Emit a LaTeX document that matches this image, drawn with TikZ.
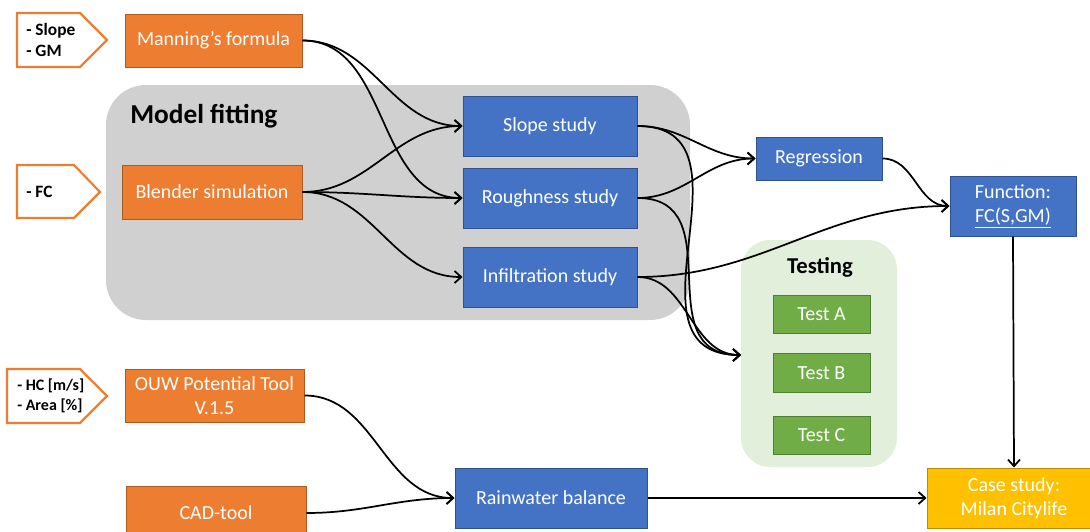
\documentclass[tikz,border=0pt]{standalone}
\usepackage{fontspec}
\setmainfont{Carlito}
\usetikzlibrary{arrows.meta}
\definecolor{orng}{HTML}{ED7D31}
\definecolor{orngb}{HTML}{AE5A21}
\definecolor{blu}{HTML}{4472C4}
\definecolor{blub}{HTML}{2F528F}
\definecolor{grn}{HTML}{70AD47}
\definecolor{grnb}{HTML}{507E32}
\definecolor{yel}{HTML}{FFC000}
\definecolor{yelb}{HTML}{BC8C00}
\definecolor{gry}{HTML}{D0D0D0}
\definecolor{lgrn}{HTML}{E2EFDA}
\begin{document}
\begin{tikzpicture}[x=0.75pt,y=-0.75pt,
 box/.style={draw, line width=0.75pt, inner sep=0pt, align=center, text=white, font=\fontsize{15}{18}\selectfont},
 obox/.style={box, fill=orng, draw=orngb},
 bbox/.style={box, fill=blu, draw=blub},
 gbox/.style={box, fill=grn, draw=grnb},
 ybox/.style={box, fill=yel, draw=yelb},
 conn/.style={line width=1.3pt, -{Straight Barb[length=5pt,width=9pt]}},
 tag/.style={draw=orng, line width=1.6pt, fill=white},
 tagtext/.style={align=left, font=\bfseries\fontsize{13}{15.5}\selectfont, inner sep=0pt, anchor=west}
]
\useasboundingbox (0,0) rectangle (1090,532);
\clip (0,0) rectangle (1090,532);
% group backgrounds
\fill[gry, rounded corners=30pt] (106,85) rectangle (690,320);
\fill[lgrn, rounded corners=22pt] (741,240) rectangle (897,467);
\node[font=\bfseries\fontsize{20.5}{24}\selectfont, anchor=west, inner sep=0pt] (mf) at (130,116) {Model fitting};
\node[font=\bfseries\fontsize{17}{20}\selectfont] (tst) at (820,267) {Testing};
% input tags
\draw[tag] (17,13) -- (80,13) -- (107,40) -- (80,67) -- (17,67) -- cycle;
\node[tagtext] (t1) at (26,40) {- Slope\\- GM};
\draw[tag] (17,165) -- (74,165) -- (100,192) -- (74,218) -- (17,218) -- cycle;
\node[tagtext] (t2) at (26,192) {- FC};
\draw[tag] (7,369) -- (80,369) -- (107,396) -- (80,423) -- (7,423) -- cycle;
\node[tagtext, font=\bfseries\fontsize{12}{15}\selectfont] (t3) at (17,396) {- HC [m/s]\\- Area [\%]};
% boxes
\node[obox, minimum width=132.75pt, minimum height=39.75pt] (man) at (213.5,40.5) {Manning’s formula};
\node[obox, minimum width=135pt, minimum height=40.5pt] (ble) at (212,192) {Blender simulation};
\node[bbox, minimum width=130.5pt, minimum height=45pt] (slo) at (550,126) {Slope study};
\node[bbox, minimum width=130.5pt, minimum height=45pt] (rou) at (550,198) {Roughness study};
\node[bbox, minimum width=130.5pt, minimum height=45pt] (inf) at (550,277) {Infiltration study};
\node[bbox, minimum width=94.5pt, minimum height=32.25pt] (reg) at (819,158.5) {Regression};
\node[bbox, minimum width=94.5pt, minimum height=45pt] (fun) at (1013,206) {Function:\\\underline{FC(S,GM)}};
\node[gbox, minimum width=72.75pt, minimum height=29pt] (ta) at (821.5,314.5) {Test A};
\node[gbox, minimum width=72.75pt, minimum height=29pt] (tb) at (821.5,373) {Test B};
\node[gbox, minimum width=72.75pt, minimum height=28pt] (tc) at (821.5,435.5) {Test C};
\node[obox, minimum width=134.25pt, minimum height=39.75pt] (ouw) at (214.5,395.5) {OUW Potential Tool\\V.1.5};
\node[obox, minimum width=135pt, minimum height=40.5pt] (cad) at (216,513) {CAD-tool};
\node[bbox, minimum width=144pt, minimum height=45pt] (rwb) at (551,498) {Rainwater balance};
\node[ybox, minimum width=130.5pt, minimum height=45pt] (cs) at (1014,498) {Case study:\\Milan Citylife};
% connectors
\coordinate (tin) at (741,355);
\draw[conn] (man.east) to[out=0,in=180] (slo.west);
\draw[conn] (man.east) to[out=0,in=180] (rou.west);
\draw[conn] (ble.east) to[out=0,in=180] (slo.west);
\draw[conn] (ble.east) to[out=0,in=180] (rou.west);
\draw[conn] (ble.east) to[out=0,in=180] (inf.west);
\draw[conn] (slo.east) to[out=0,in=180] (reg.west);
\draw[conn] (rou.east) to[out=0,in=180] (reg.west);
\draw[conn] (slo.east) to[out=0,in=180,looseness=1.3] (tin);
\draw[conn] (rou.east) to[out=0,in=180,looseness=1.3] (tin);
\draw[conn] (inf.east) to[out=0,in=180] (tin);
\draw[conn] (inf.east) to[out=0,in=180] (fun.west);
\draw[conn] (reg.east) to[out=0,in=180] (fun.west);
\draw[conn] (fun.south) -- (cs.north);
\draw[conn] (ouw.east) to[out=0,in=180] (rwb.west);
\draw[conn] (cad.east) to[out=0,in=180] (rwb.west);
\draw[conn] (rwb.east) -- (cs.west);
\end{tikzpicture}
\end{document}
